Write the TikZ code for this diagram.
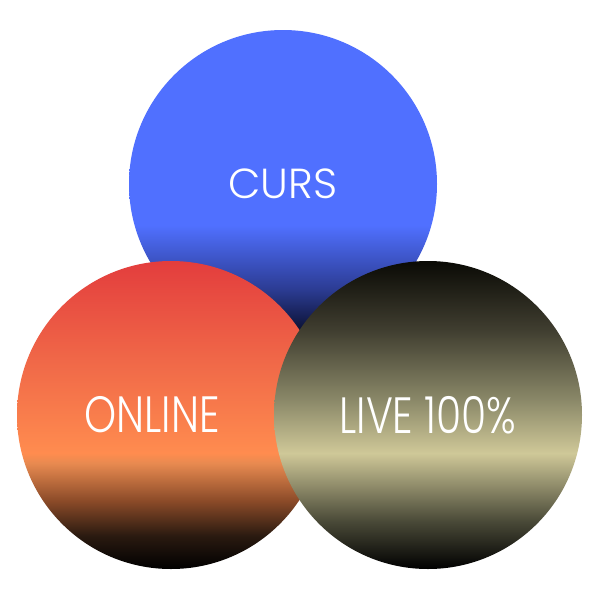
\documentclass[tikz,border=0pt]{standalone}
\usepackage{fontspec}
\setmainfont{Poppins}[UprightFont=* Light]
\newfontfamily\narrowfont{Poppins}[UprightFont=* Light, FakeStretch=0.8]
\usepackage{tikz}

\definecolor{cursblue}{HTML}{5070FF}
\definecolor{cursmid}{HTML}{2C3C94}
\definecolor{cursdark}{HTML}{050A22}
\definecolor{onred}{HTML}{E33D3D}
\definecolor{onmid}{HTML}{F06848}
\definecolor{onorange}{HTML}{FF8C4F}
\definecolor{onpeach}{HTML}{E88A50}
\definecolor{onbrown}{HTML}{8A4A28}
\definecolor{ondark}{HTML}{2A1A10}
\definecolor{livekhaki}{HTML}{CFC898}
\definecolor{livemid}{HTML}{8A8868}
\definecolor{liveolive}{HTML}{403E30}
\definecolor{livelow}{HTML}{4A4A38}
\definecolor{livetop}{HTML}{0A0A05}

\pgfdeclareverticalshading{cursshade}{100bp}{color(0bp)=(cursdark); color(25bp)=(cursdark); color(33bp)=(cursmid); color(43.3bp)=(cursblue); color(100bp)=(cursblue)}
\pgfdeclareverticalshading{onlineshade}{100bp}{color(0bp)=(black); color(25bp)=(black); color(30.4bp)=(ondark); color(36bp)=(onbrown); color(42.2bp)=(onpeach); color(43.8bp)=(onorange); color(58.8bp)=(onmid); color(75bp)=(onred); color(100bp)=(onred)}
\pgfdeclareverticalshading{liveshade}{100bp}{color(0bp)=(black); color(25bp)=(black); color(32.8bp)=(livelow); color(43.8bp)=(livekhaki); color(52.5bp)=(livemid); color(63.8bp)=(liveolive); color(75bp)=(livetop); color(100bp)=(livetop)}

\tikzset{
  disc/.style={circle, minimum size=154pt, inner sep=0pt},
  word/.style={text=white, inner sep=0pt}
}

\begin{document}
\begin{tikzpicture}[x=0.5pt, y=-0.5pt]
  \useasboundingbox[fill=white] (0,0) rectangle (600,600);

  % the three circles
  \node (curs) [disc, shading=cursshade] at (283,184) {};
  \node (online) [disc, shading=onlineshade] at (171,415) {};
  \node (live) [disc, shading=liveshade] at (428,415) {};

  % labels
  \node (curstext) [word, font=\fontsize{21}{21}\selectfont] at (curs) {CURS};
  \node (onlinetext) [word, font=\narrowfont\fontsize{25.5}{25.5}\selectfont, xshift=-9.5pt] at (online) {ONLINE};
  \node (livetext) [word, font=\narrowfont\fontsize{25.5}{25.5}\selectfont] at (live) {LIVE 100\%};

\end{tikzpicture}
\end{document}
